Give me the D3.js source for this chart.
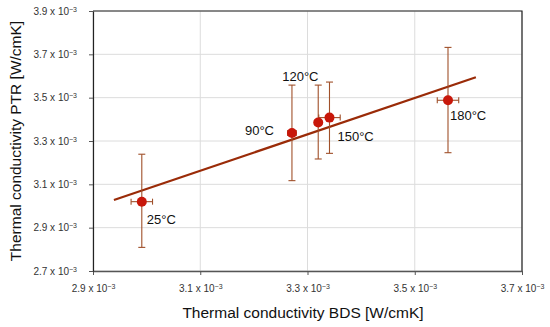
<!DOCTYPE html>
<html>
<head>
<meta charset="utf-8">
<script src="https://cdn.jsdelivr.net/npm/d3@7"></script>
<style>
  body { margin: 0; background: #fff; }
  text { font-family: Arial, "Liberation Sans", sans-serif; }
</style>
</head>
<body>
<script>
// thermal conductivity PTR vs BDS, with error bars and a linear fit

// data (values in units of 1e-3 W/cmK)
const temps = ["25°C", "90°C", "120°C", "150°C", "180°C"];
const bds = [2.991, 3.271, 3.320, 3.341, 3.562];
const ptr = [3.020, 3.337, 3.385, 3.408, 3.488];
const bdsErr = [0.020, 0.008, 0.006, 0.020, 0.020];
const ptrLow = [2.809, 3.117, 3.217, 3.243, 3.246];
const ptrHigh = [3.239, 3.558, 3.558, 3.572, 3.732];
// fitted line end points
const fitX = [2.939, 3.614];
const fitY = [3.028, 3.594];

const xTicks = [2.9, 3.1, 3.3, 3.5, 3.7];
const yTicks = [2.7, 2.9, 3.1, 3.3, 3.5, 3.7, 3.9];

const width = 550;
const height = 327;
const margin = {top: 11, right: 28, bottom: 56, left: 93};

const svg = d3.select("body")
    .append("svg")
    .attr("width", width)
    .attr("height", height);

const xScale = d3.scaleLinear()
    .domain([2.9, 3.7])
    .range([margin.left, width - margin.right]);

const yScale = d3.scaleLinear()
    .domain([2.7, 3.9])
    .range([height - margin.bottom, margin.top]);

// grid lines
svg.append("g")
    .selectAll("line")
    .data(yTicks)
    .join("line")
    .attr("x1", xScale(2.9))
    .attr("x2", xScale(3.7))
    .attr("y1", d => yScale(d))
    .attr("y2", d => yScale(d))
    .attr("stroke", "#dcdcdc")
    .attr("stroke-width", 1);

svg.append("g")
    .selectAll("line")
    .data(xTicks)
    .join("line")
    .attr("x1", d => xScale(d))
    .attr("x2", d => xScale(d))
    .attr("y1", yScale(2.7))
    .attr("y2", yScale(3.9))
    .attr("stroke", "#dcdcdc")
    .attr("stroke-width", 1);

// top + right border
svg.append("path")
    .attr("d", `M${xScale(2.9)},${yScale(3.9)}H${xScale(3.7)}V${yScale(2.7)}`)
    .attr("fill", "none")
    .attr("stroke", "#222")
    .attr("stroke-width", 1.2);

// tick label with 10^-3
function sciLabel(sel) {
    sel.text(null);
    sel.append("tspan").text(d => d.toFixed(1) + " x 10");
    sel.append("tspan")
        .attr("dy", "-0.45em")
        .attr("font-size", "7px")
        .text("\u22123");
}

const xAxis = svg.append("g")
    .attr("transform", `translate(0,${yScale(2.7)})`)
    .call(d3.axisBottom(xScale).tickValues(xTicks).tickSize(4).tickSizeOuter(0));
xAxis.select(".domain").attr("stroke", "#555").attr("stroke-width", 1.6);
xAxis.selectAll(".tick line").attr("stroke", "#555");
xAxis.selectAll(".tick text")
    .attr("font-size", "10px")
    .attr("fill", "#333")
    .attr("y", 14)
    .call(sciLabel);

const yAxis = svg.append("g")
    .attr("transform", `translate(${xScale(2.9)},0)`)
    .call(d3.axisLeft(yScale).tickValues(yTicks).tickSize(4).tickSizeOuter(0));
yAxis.select(".domain").attr("stroke", "#222").attr("stroke-width", 1.2);
yAxis.selectAll(".tick line").attr("stroke", "#555");
yAxis.selectAll(".tick text")
    .attr("font-size", "10px")
    .attr("fill", "#333")
    .attr("x", -16)
    .call(sciLabel);

// axis titles
svg.append("text")
    .attr("x", 303)
    .attr("y", 318)
    .attr("text-anchor", "middle")
    .attr("font-size", "15.5px")
    .attr("fill", "#111")
    .text("Thermal conductivity BDS [W/cmK]");

svg.append("text")
    .attr("transform", `translate(21,${(yScale(2.7) + yScale(3.9)) / 2}) rotate(-90)`)
    .attr("text-anchor", "middle")
    .attr("font-size", "15.5px")
    .attr("fill", "#111")
    .text("Thermal conductivity PTR [W/cmK]");

// linear fit
svg.append("line")
    .attr("x1", xScale(fitX[0]))
    .attr("y1", yScale(fitY[0]))
    .attr("x2", xScale(fitX[1]))
    .attr("y2", yScale(fitY[1]))
    .attr("stroke", "#9a2b08")
    .attr("stroke-width", 2.2);

// error bars
const errColor = "#a0502a";
const idx = d3.range(temps.length);
const eb = svg.append("g").attr("stroke", errColor).attr("stroke-width", 1.1);

idx.forEach(i => {
    const cx = xScale(bds[i]);
    const cy = yScale(ptr[i]);
    const yl = yScale(ptrLow[i]);
    const yh = yScale(ptrHigh[i]);
    eb.append("line").attr("x1", cx).attr("x2", cx).attr("y1", yl).attr("y2", yh);
    eb.append("line").attr("x1", cx - 3.5).attr("x2", cx + 3.5).attr("y1", yl).attr("y2", yl);
    eb.append("line").attr("x1", cx - 3.5).attr("x2", cx + 3.5).attr("y1", yh).attr("y2", yh);
    const xl = xScale(bds[i] - bdsErr[i]);
    const xr = xScale(bds[i] + bdsErr[i]);
    eb.append("line").attr("x1", xl).attr("x2", xr).attr("y1", cy).attr("y2", cy);
    eb.append("line").attr("x1", xl).attr("x2", xl).attr("y1", cy - 3).attr("y2", cy + 3);
    eb.append("line").attr("x1", xr).attr("x2", xr).attr("y1", cy - 3).attr("y2", cy + 3);
});

// points
svg.append("g")
    .selectAll("circle")
    .data(idx)
    .join("circle")
    .attr("cx", i => xScale(bds[i]))
    .attr("cy", i => yScale(ptr[i]))
    .attr("r", 5)
    .attr("fill", "#c8170a");

// temperature labels
const labelPos = [
    {dx: 5, dy: 22},
    {dx: -47, dy: 2},
    {dx: -36, dy: -42},
    {dx: 8, dy: 23},
    {dx: 2, dy: 20}
];
svg.append("g")
    .selectAll("text")
    .data(idx)
    .join("text")
    .attr("x", i => xScale(bds[i]) + labelPos[i].dx)
    .attr("y", i => yScale(ptr[i]) + labelPos[i].dy)
    .attr("font-family", "'Open Sans', 'Noto Sans', sans-serif")
    .attr("font-size", "13px")
    .attr("fill", "#111")
    .text(i => temps[i]);
</script>
</body>
</html>
